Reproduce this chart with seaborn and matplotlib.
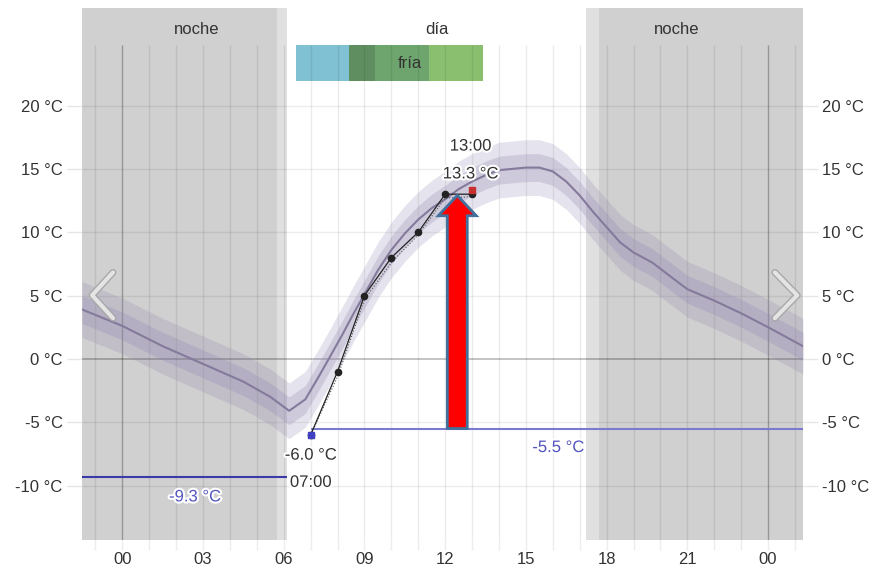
import numpy as np
import pandas as pd
import matplotlib
matplotlib.use("Agg")
import matplotlib.pyplot as plt
import matplotlib.patheffects as pe
import seaborn as sns

# pronóstico (media) y bandas de incertidumbre
fc_hours = [-1.5, 0, 1.5, 3, 4.5, 5.5, 6.2, 6.8, 7.3, 7.7, 8.2, 8.6, 9, 9.5, 10, 10.5, 11, 11.5,
            12, 12.5, 13, 13.5, 14, 15, 15.5, 16, 16.5, 17, 17.5, 18, 18.5, 19, 19.7, 20.5, 21,
            22, 23, 24, 25.3]
fc_temp = [3.9, 2.6, 1.0, -0.4, -1.8, -3.0, -4.1, -3.2, -1.4, 0.1, 2.0, 3.6, 5.1, 7.0, 8.6, 9.9,
           11.0, 11.9, 12.6, 13.4, 14.0, 14.5, 14.9, 15.1, 15.1, 14.8, 14.0, 12.9, 11.6, 10.4, 9.2,
           8.4, 7.6, 6.3, 5.5, 4.6, 3.6, 2.5, 1.0]
band_inner = 1.1
band_outer = 2.2

# observaciones
obs_hours = [7, 8, 9, 10, 11, 12, 13]
obs_temp = [-6.0, -1.0, 5.0, 8.0, 10.0, 13.0, 13.0]
obs_min = [-6.0, -1.4, 4.7, 7.6, 9.8, 12.7, 12.8]
last_obs = (13, 13.3)
first_obs = (7, -6.0)

# noches / crepúsculos
night_dark = [(-1.5, 5.76), (17.7, 25.3)]
twilight = [(5.76, 6.13), (17.25, 17.7)]

# barra de sensación
feel_starts = [6.47, 8.44, 9.4, 11.4]
feel_ends = [8.44, 9.4, 11.4, 13.4]
feel_colors = ['#80c1d3', '#5f8f60', '#6ea56e', '#8bbf70']

min_line = (-9.3, -1.5, 6.13)
ref_line = (-5.5, 7.0, 25.3)

x_ticks = [0, 3, 6, 9, 12, 15, 18, 21, 24]
x_labels = ['00', '03', '06', '09', '12', '15', '18', '21', '00']
y_ticks = [-10, -5, 0, 5, 10, 15, 20]

sns.set_theme(style="white")
plt.rcParams['font.family'] = ['Liberation Sans', 'DejaVu Sans']

fig = plt.figure(figsize=(8.77, 5.72), dpi=100)
ax = fig.add_axes([82 / 877, 1 - 540 / 572, 721 / 877, 532 / 572])
ax.set_xlim(-1.5, 25.3)
ax.set_ylim(-14.3, 27.7)
for s in ax.spines.values():
    s.set_visible(False)

for a, b in night_dark:
    ax.axvspan(a, b, color='#d0d0d0', lw=0, zorder=0)
for a, b in twilight:
    ax.axvspan(a, b, color='#e0e0e0', lw=0, zorder=0)

# rejilla
grid_top = 24.8
for h in range(-1, 26):
    al = 0.28 if h in (0, 24) else 0.08
    ax.vlines(h, -14.3, grid_top, color='black', alpha=al, lw=1, zorder=1)
for v in y_ticks:
    ax.axhline(v, color='black', alpha=0.25 if v == 0 else 0.07, lw=1.3 if v == 0 else 1, zorder=1)

# barra de sensación
ax.barh(23.35, [e - s for s, e in zip(feel_starts, feel_ends)], left=feel_starts, height=2.9,
        color=feel_colors, lw=0, zorder=0.5)
ax.text(10.7, 23.3, 'fría', ha='center', va='center', fontsize=12, color='#333333', zorder=3)
ax.text(2.75, 26.0, 'noche', ha='center', va='center', fontsize=12, color='#333333')
ax.text(20.6, 26.0, 'noche', ha='center', va='center', fontsize=12, color='#333333')
ax.text(11.7, 26.0, 'día', ha='center', va='center', fontsize=12, color='#333333')

# pronóstico
fc = pd.DataFrame({'hora': fc_hours, 'temp': fc_temp})
ax.fill_between(fc.hora, fc.temp - band_outer, fc.temp + band_outer, color='#8d80ad', alpha=0.22, lw=0, zorder=2)
ax.fill_between(fc.hora, fc.temp - band_inner, fc.temp + band_inner, color='#8d80ad', alpha=0.25, lw=0, zorder=2)
sns.lineplot(data=fc, x='hora', y='temp', color='#857a9c', lw=1.5, ax=ax, zorder=3)

# líneas de referencia
ax.hlines(min_line[0], min_line[1], min_line[2], color='#3a3aa8', lw=1.5, zorder=3)
ax.hlines(ref_line[0], ref_line[1], ref_line[2], color='#7a7ad0', lw=1.5, zorder=3)

# observaciones
obs = pd.DataFrame({'hora': obs_hours, 'temp': obs_temp, 'min': obs_min})
sns.lineplot(data=obs, x='hora', y='min', color='#555555', lw=0.8, ls=':', ax=ax, zorder=4)
sns.lineplot(data=obs, x='hora', y='temp', color='#222222', lw=0.9, marker='o', markersize=5.5,
             markeredgewidth=0, ax=ax, zorder=4)
ax.plot(*first_obs, marker='s', color='#4040c0', markersize=5, zorder=5)
ax.plot(*last_obs, marker='s', color='#c83030', markersize=4, zorder=5)

halo = [pe.withStroke(linewidth=3, foreground='white')]
ax.text(12.94, 16.8, '13:00', ha='center', va='center', fontsize=12, color='#333333', path_effects=halo, zorder=6)
ax.text(12.94, 14.6, '13.3 °C', ha='center', va='center', fontsize=12, color='#333333', path_effects=halo, zorder=6)
ax.text(7.0, -7.6, '-6.0 °C', ha='center', va='center', fontsize=12, color='#333333', path_effects=halo, zorder=6)
ax.text(7.0, -9.75, '07:00', ha='center', va='center', fontsize=12, color='#333333', path_effects=halo, zorder=6)
ax.text(16.2, -7.0, '-5.5 °C', ha='center', va='center', fontsize=12, color='#5555c0', path_effects=halo, zorder=6)
ax.text(2.7, -10.9, '-9.3 °C', ha='center', va='center', fontsize=12, color='#5555c0', path_effects=halo, zorder=6)

# flecha roja
ax.arrow(12.45, ref_line[0], 0, last_obs[1] - 0.4 - ref_line[0], width=0.74, head_width=1.41,
         head_length=1.6, length_includes_head=True, fc='red', ec='#41719c', lw=2, zorder=7)

# flechas de navegación
chev = [pe.Stroke(linewidth=5, foreground='#a8a8a8'), pe.Normal()]
ax.plot([0.043, 0.014, 0.043], [0.503, 0.46, 0.417], transform=ax.transAxes, color='#e4e4e4',
        lw=3, path_effects=chev, zorder=8, solid_capstyle='round')
ax.plot([0.961, 0.992, 0.961], [0.503, 0.46, 0.417], transform=ax.transAxes, color='#e4e4e4',
        lw=3, path_effects=chev, zorder=8, solid_capstyle='round')

# ejes
ax.set_xticks(x_ticks)
ax.set_xticklabels(x_labels)
ax.set_xticks(range(-1, 26), minor=True)
ax.set_yticks(y_ticks)
ax.set_yticklabels([f'{v} °C' for v in y_ticks])
ax.tick_params(axis='y', which='both', left=True, right=True, labelleft=True, labelright=True,
               length=11, width=1, color='#e6e6e6', pad=3, labelsize=12, labelcolor='#333333')
ax.tick_params(axis='x', which='both', bottom=True, length=7, width=1, color='#ececec', pad=2,
               labelsize=12, labelcolor='#333333')
ax.set_xlabel('')
ax.set_ylabel('')

fig.savefig('out.png', dpi=100)
